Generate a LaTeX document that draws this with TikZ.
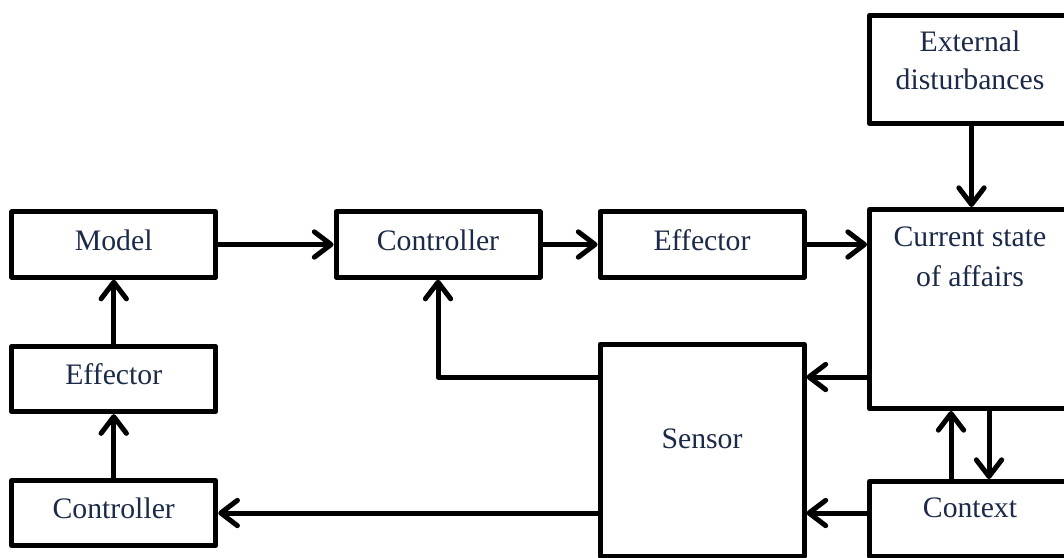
\documentclass[tikz,border=0pt]{standalone}
\usepackage{fontspec}
\setmainfont{Liberation Serif}
\usetikzlibrary{arrows.meta}
\definecolor{txt}{RGB}{27,42,72}
\begin{document}
\begin{tikzpicture}[x=0.75pt,y=-0.75pt,
  box/.style={draw=black, line width=3.75pt, line join=round, rectangle,
    minimum width=153pt, minimum height=49pt, inner sep=0pt,
    font=\fontsize{22.3}{30}\selectfont, text=txt, text height=12pt, text depth=3.75pt},
  lbl/.style={font=\fontsize{22.3}{30}\selectfont, text=txt, anchor=base, inner sep=0pt},
  conn/.style={line width=3.75pt, line cap=round, line join=round,
    -{Straight Barb[length=12.5pt,width=19pt,line cap=round,line join=round]}}]
\clip (0,0) rectangle (1064,557);
% boxes
\node[box] (model) at (113.75,244.5) {Model};
\node[box] (ctrl) at (438,244.5) {Controller};
\node[box] (eff) at (702,244.5) {Effector};
\node[box] (effl) at (113.75,379) {Effector};
\node[box] (ctrlb) at (113.75,513) {Controller};
\node[box, minimum height=159pt, text height=12pt, text depth=15pt] (sen) at (702,450) {Sensor};
\node[box, minimum height=81pt] (ext) at (971.5,69.5) {};
\node[box, minimum height=149.25pt] (cur) at (971.5,309) {};
\node[box, minimum height=56.25pt] (ctx) at (971.5,519) {};
% texts of the right-hand boxes
\node[lbl] (extA) at (970,51) {External};
\node[lbl] (extB) at (970,89) {disturbances};
\node[lbl] (curA) at (970,246) {Current state};
\node[lbl] (curB) at (970,286) {of affairs};
\node[lbl] (ctxA) at (970,517) {Context};
% helper coordinates
\coordinate (yA) at (0,377);
\coordinate (yB) at (0,513);
\coordinate (xU) at (951,0);
\coordinate (xD) at (989,0);
% connectors
\draw[conn] (model.east) -- (ctrl.west);
\draw[conn] (ctrl.east) -- (eff.west);
\draw[conn] (eff.east) -- (eff.east -| cur.west);
\draw[conn] (ext.south) -- (cur.north);
\draw[conn] (cur.west |- yA) -- (sen.east |- yA);
\draw[conn] (sen.west |- yA) -- (ctrl.south |- yA) -- (ctrl.south);
\draw[conn] (ctx.west |- yB) -- (sen.east |- yB);
\draw[conn] (sen.west |- yB) -- (ctrlb.east);
\draw[conn] (ctrlb.north) -- (effl.south);
\draw[conn] (effl.north) -- (model.south);
\draw[conn] (ctx.north -| xU) -- (cur.south -| xU);
\draw[conn] (cur.south -| xD) -- (ctx.north -| xD);
\end{tikzpicture}
\end{document}
